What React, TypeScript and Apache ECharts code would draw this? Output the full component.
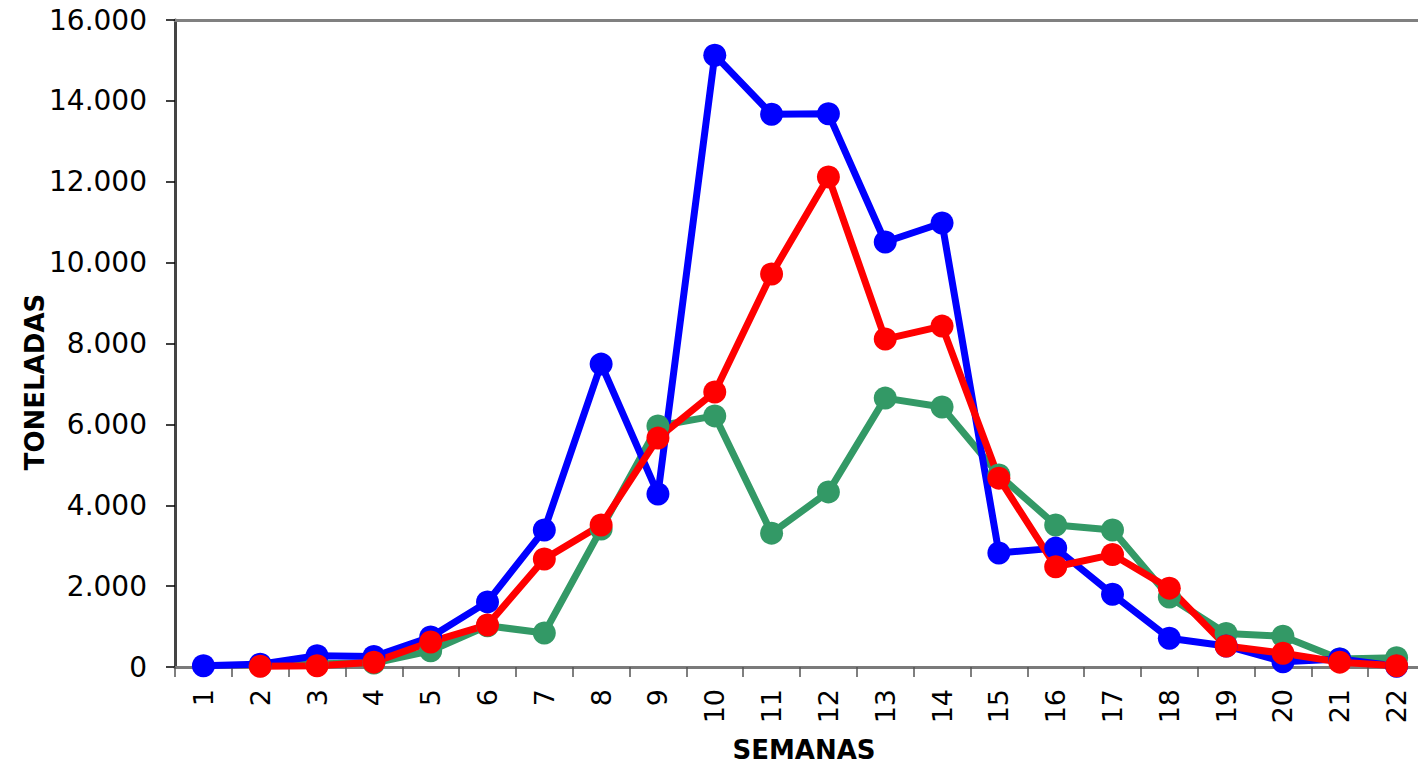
import React, { useEffect, useRef } from "react";
import * as echarts from "echarts";

const weeks = ["1","2","3","4","5","6","7","8","9","10","11","12","13","14","15","16","17","18","19","20","21","22"];
const blueSeries = [30, 70, 280, 260, 740, 1610, 3390, 7490, 4280, 15130, 13670, 13680, 10510, 10980, 2820, 2940, 1800, 710, 520, 130, 200, 20];
const redSeries = [null, 20, 30, 120, 620, 1040, 2670, 3510, 5660, 6800, 9720, 12120, 8110, 8430, 4670, 2480, 2780, 1950, 520, 340, 120, 30];
const greenSeries = [null, 30, 80, 100, 400, 1020, 840, 3410, 5960, 6210, 3310, 4330, 6650, 6430, 4750, 3510, 3390, 1730, 830, 760, 200, 230];
const yTicks = { min: 0, max: 16000, interval: 2000 };
const yTitle = "TONELADAS";
const xTitle = "SEMANAS";

const fmt = (v: number) => String(v).replace(/\B(?=(\d{3})+(?!\d))/g, ".");

export default function App() {
  const ref = useRef<HTMLDivElement>(null);
  useEffect(() => {
    if (!ref.current) return;
    const chart = echarts.init(ref.current, null, { renderer: "svg" });
    const lineSeries = (name: string, data: any[], color: string) => ({
      name,
      type: "line",
      data,
      symbol: "circle",
      symbolSize: 23,
      lineStyle: { color, width: 7 },
      itemStyle: { color },
      z: 3,
    });
    chart.setOption({
      animation: false,
      backgroundColor: "#ffffff",
      textStyle: { fontFamily: "DejaVu Sans" },
      grid: { left: 175, top: 20, right: 5, bottom: 100, containLabel: false },
      xAxis: [
        {
          type: "category",
          data: weeks,
          boundaryGap: true,
          axisLine: { show: true, lineStyle: { color: "#7a7a7a", width: 3 } },
          axisTick: { show: true, length: 10, lineStyle: { color: "#555", width: 1.5 } },
          axisLabel: { rotate: 90, color: "#000", fontSize: 27, fontFamily: "DejaVu Sans", margin: 22 },
          splitLine: { show: false },
        },
        {
          type: "category",
          data: weeks,
          position: "top",
          axisLine: { show: true, lineStyle: { color: "#808080", width: 3 } },
          axisTick: { show: false },
          axisLabel: { show: false },
        },
      ],
      yAxis: {
        type: "value",
        min: yTicks.min,
        max: yTicks.max,
        interval: yTicks.interval,
        axisLine: { show: true, lineStyle: { color: "#444", width: 3 } },
        axisTick: { show: true, length: 9, lineStyle: { color: "#000", width: 1.5 } },
        axisLabel: { color: "#000", fontSize: 28, fontFamily: "DejaVu Sans", margin: 28, formatter: (v: number) => fmt(v) },
        splitLine: { show: false },
      },
      series: [
        lineSeries("Verde", greenSeries, "#339966"),
        lineSeries("Azul", blueSeries, "#0000ff"),
        lineSeries("Rojo", redSeries, "#ff0000"),
      ],
      graphic: [
        {
          type: "text",
          x: 35,
          y: 382,
          rotation: Math.PI / 2,
          style: { text: yTitle, font: "bold 26px 'DejaVu Sans'", fill: "#000", align: "center", verticalAlign: "middle" },
        },
        {
          type: "text",
          x: 804,
          y: 750,
          style: { text: xTitle, font: "bold 26px 'DejaVu Sans'", fill: "#000", align: "center", verticalAlign: "middle" },
        },
      ],
    });
    return () => chart.dispose();
  }, []);
  return <div ref={ref} style={{ position: "fixed", left: 0, top: 0, width: 1430, height: 767 }} />;
}
